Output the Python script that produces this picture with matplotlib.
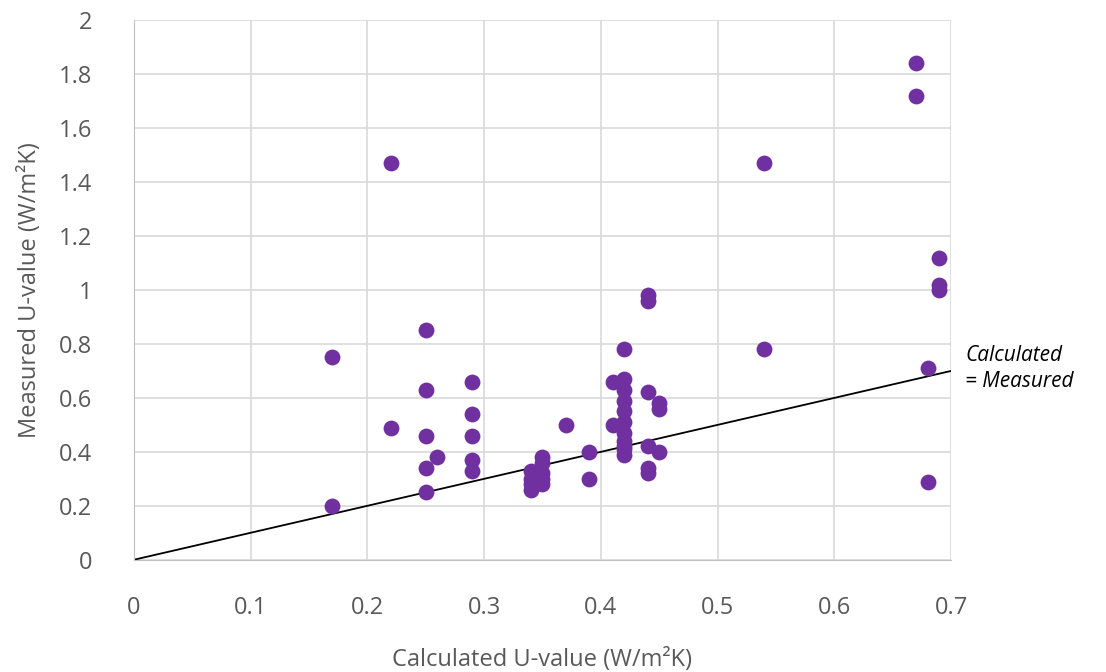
import numpy as np
import matplotlib.pyplot as plt

# Calculated vs measured U-values (W/m2K)
calculated = [0.17, 0.17, 0.22, 0.22,
              0.25, 0.25, 0.25, 0.25, 0.25, 0.26,
              0.29, 0.29, 0.29, 0.29, 0.29,
              0.34, 0.34, 0.34, 0.34,
              0.35, 0.35, 0.35, 0.35, 0.35,
              0.37, 0.39, 0.39,
              0.41, 0.41,
              0.42, 0.42, 0.42, 0.42, 0.42, 0.42, 0.42, 0.42, 0.42, 0.42, 0.42,
              0.44, 0.44, 0.44, 0.44, 0.44, 0.44,
              0.45, 0.45, 0.45,
              0.54, 0.54,
              0.67, 0.67,
              0.68, 0.68,
              0.69, 0.69, 0.69]
measured = [0.75, 0.20, 1.47, 0.49,
            0.85, 0.63, 0.46, 0.34, 0.25, 0.38,
            0.66, 0.54, 0.46, 0.37, 0.33,
            0.33, 0.30, 0.28, 0.26,
            0.38, 0.36, 0.32, 0.30, 0.28,
            0.50, 0.40, 0.30,
            0.66, 0.50,
            0.78, 0.67, 0.63, 0.59, 0.55, 0.51, 0.47, 0.44, 0.41, 0.39, 0.42,
            0.98, 0.96, 0.62, 0.42, 0.34, 0.32,
            0.58, 0.56, 0.40,
            1.47, 0.78,
            1.84, 1.72,
            0.71, 0.29,
            1.12, 1.02, 1.00]

xticks = [0, 0.1, 0.2, 0.3, 0.4, 0.5, 0.6, 0.7]
yticks = [0, 0.2, 0.4, 0.6, 0.8, 1.0, 1.2, 1.4, 1.6, 1.8, 2.0]
ytick_labels = ['0', '0.2', '0.4', '0.6', '0.8', '1', '1.2', '1.4', '1.6', '1.8', '2']

plt.rcParams['font.family'] = ['Open Sans', 'DejaVu Sans']

fig = plt.figure(figsize=(11.06, 6.72), dpi=100)
ax = fig.add_axes([0.121, 0.167, 0.739, 0.803])

ax.scatter(calculated, measured, s=130, color='#7030A0', zorder=3, linewidths=0)
ax.plot([0, 0.7], [0, 0.7], color='black', lw=1.3, zorder=2)

ax.set_xlim(0, 0.7)
ax.set_ylim(0, 2)
ax.set_xticks(xticks)
ax.set_xticklabels([str(t) for t in xticks])
ax.set_yticks(yticks)
ax.set_yticklabels(ytick_labels)
ax.grid(True, color='#d9d9d9', lw=1.2, zorder=0)
ax.set_axisbelow(True)

for s in ['top', 'right']:
    ax.spines[s].set_visible(False)
for s in ['left', 'bottom']:
    ax.spines[s].set_color('#bfbfbf')
ax.tick_params(length=0, labelsize=17, labelcolor='#595959')
ax.tick_params(axis='y', pad=30)
ax.tick_params(axis='x', pad=26)

ax.set_xlabel('Calculated U-value (W/m²K)', fontsize=17, color='#595959', labelpad=20)
ax.set_ylabel('Measured U-value (W/m²K)', fontsize=17, color='#595959', labelpad=12)

ax.text(0.712, 0.71, 'Calculated\n= Measured', fontsize=15, style='italic',
        va='center', ha='left', linespacing=1.3, clip_on=False)

fig.savefig('out.png', dpi=100)
